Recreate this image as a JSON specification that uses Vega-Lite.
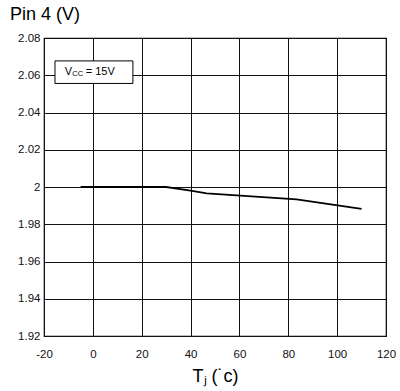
{
  "$schema": "https://vega.github.io/schema/vega-lite/v6.json",
  "autosize": {"type": "none"},
  "padding": {"left": 44, "top": 38, "right": 14, "bottom": 55},
  "width": 342,
  "height": 298,
  "background": "white",
  "config": {
    "font": "Liberation Sans",
    "view": {"stroke": "#000", "strokeWidth": 1.2}
  },
  "title": {
    "text": "Pin 4 (V)",
    "anchor": "start",
    "frame": "group",
    "dx": -34,
    "offset": 8,
    "fontSize": 18,
    "fontWeight": "normal",
    "color": "#000",
    "font": "Liberation Sans"
  },
  "datasets": {
    "curve": [
      {"t": -5, "v": 2.0},
      {"t": 30, "v": 2.0},
      {"t": 40, "v": 1.998},
      {"t": 46.6, "v": 1.9966},
      {"t": 83.4, "v": 1.9934},
      {"t": 110, "v": 1.9882}
    ],
    "box": [{"x1": -15.5, "x2": 16.4, "y1": 2.0556, "y2": 2.0677}],
    "lbl": [{"x": -11.5, "y": 2.0617}]
  },
  "layer": [
    {
      "data": {"name": "curve"},
      "mark": {"type": "line", "color": "#000", "strokeWidth": 1.8},
      "encoding": {
        "x": {
          "field": "t", "type": "quantitative",
          "scale": {"domain": [-20, 120], "nice": false},
          "axis": {
            "values": [-20, 0, 20, 40, 60, 80, 100, 120],
            "tickCount": 20,
            "labelExpr": "toString(datum.value)",
            "labelOverlap": false,
            "grid": true, "gridColor": "#111", "gridOpacity": 1, "gridWidth": 1,
            "domain": false, "ticks": false,
            "labelFontSize": 11.5, "labelColor": "#111", "labelPadding": 12,
            "labelFlush": false,
            "title": "Tⱼ (˙c)", "titleFontSize": 18, "titleFontWeight": "normal",
            "titleColor": "#000", "titlePadding": 8
          }
        },
        "y": {
          "field": "v", "type": "quantitative",
          "scale": {"domain": [1.92, 2.08], "nice": false, "zero": false},
          "axis": {
            "values": [1.92, 1.94, 1.96, 1.98, 2.0, 2.02, 2.04, 2.06, 2.08],
            "tickCount": 20,
            "labelExpr": "datum.value == 2 ? '2' : format(datum.value, '.2f')",
            "labelOverlap": false,
            "grid": true, "gridColor": "#111", "gridOpacity": 1, "gridWidth": 1,
            "domain": false, "ticks": false,
            "labelFontSize": 11.5, "labelColor": "#111", "labelPadding": 4,
            "labelFlush": false,
            "title": null
          }
        }
      }
    },
    {
      "data": {"name": "box"},
      "mark": {"type": "rect", "fill": "white", "stroke": "#000", "strokeWidth": 1},
      "encoding": {
        "x": {"field": "x1", "type": "quantitative"},
        "x2": {"field": "x2"},
        "y": {"field": "y1", "type": "quantitative"},
        "y2": {"field": "y2"}
      }
    },
    {
      "data": {"name": "lbl"},
      "mark": {"type": "text", "text": "V", "align": "left", "baseline": "middle", "fontSize": 11, "color": "#000", "font": "Liberation Sans"},
      "encoding": {
        "x": {"field": "x", "type": "quantitative"},
        "y": {"field": "y", "type": "quantitative"}
      }
    },
    {
      "data": {"name": "lbl"},
      "mark": {"type": "text", "text": "CC", "align": "left", "baseline": "middle", "fontSize": 7.5, "dx": 7.5, "dy": 2, "color": "#000", "font": "Liberation Sans"},
      "encoding": {
        "x": {"field": "x", "type": "quantitative"},
        "y": {"field": "y", "type": "quantitative"}
      }
    },
    {
      "data": {"name": "lbl"},
      "mark": {"type": "text", "text": "= 15V", "align": "left", "baseline": "middle", "fontSize": 11, "dx": 21, "color": "#000", "font": "Liberation Sans"},
      "encoding": {
        "x": {"field": "x", "type": "quantitative"},
        "y": {"field": "y", "type": "quantitative"}
      }
    }
  ]
}
